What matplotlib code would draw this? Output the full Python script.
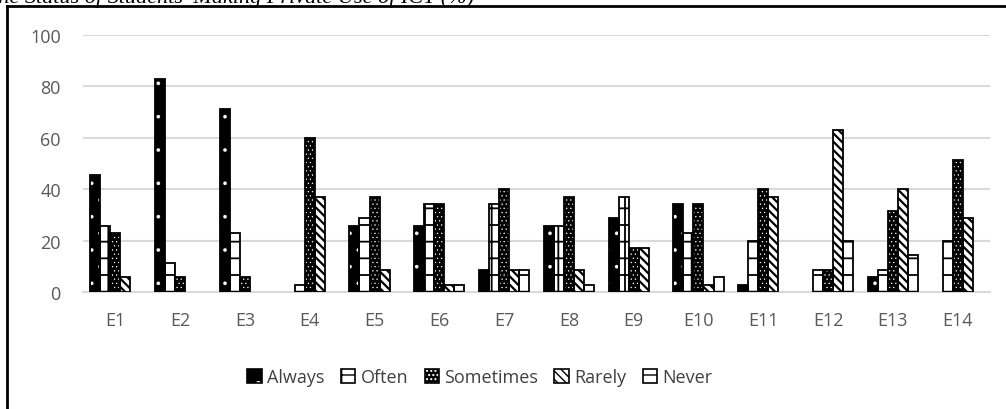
import numpy as np
import matplotlib
matplotlib.use("Agg")
import matplotlib.pyplot as plt
from matplotlib.lines import Line2D

# percentages of students (n = 35) per item
items = ["E1", "E2", "E3", "E4", "E5", "E6", "E7",
         "E8", "E9", "E10", "E11", "E12", "E13", "E14"]
always = [45.7, 82.9, 71.4, 0, 25.7, 25.7, 8.6, 25.7, 28.6, 34.3, 2.9, 0, 5.7, 0]
often = [25.7, 11.4, 22.9, 2.9, 28.6, 34.3, 34.3, 25.7, 37.1, 22.9, 20.0, 8.6, 8.6, 20.0]
sometimes = [22.9, 5.7, 5.7, 60.0, 37.1, 34.3, 40.0, 37.1, 17.1, 34.3, 40.0, 8.6, 31.4, 51.4]
rarely = [5.7, 0, 0, 37.1, 8.6, 2.9, 8.6, 8.6, 17.1, 2.9, 37.1, 62.9, 40.0, 28.6]
never = [0, 0, 0, 0, 0, 2.9, 8.6, 2.9, 0, 5.7, 0, 20.0, 14.3, 0]
labels = ["Always", "Often", "Sometimes", "Rarely", "Never"]
y_ticks = [0, 20, 40, 60, 80, 100]

plt.rcParams["font.family"] = ["Open Sans", "DejaVu Sans"]

# face, hatch colour, hatch, hatch line width per series
styles = [
    ("black", "white", ".", 0.2),
    ("white", "black", "+", 1.3),
    ("black", "white", "....", 0.4),
    ("white", "black", "\\\\\\\\", 1.6),
    ("white", "black", "-", 1.3),
]
values = [always, often, sometimes, rarely, never]

fig = plt.figure(figsize=(10.06, 4.10), dpi=100)
ax = fig.add_axes([83 / 1006, 117 / 410, 907 / 1006, 257 / 410])

x = np.arange(len(items))
w = 0.155
handles = []
for i, (name, vals, (face, hcol, hatch, hlw)) in enumerate(zip(labels, values, styles)):
    pos = x + (i - 2) * w
    vals = np.array(vals)
    edge = ["black" if v > 0 else "none" for v in vals]
    with plt.rc_context({"hatch.linewidth": hlw}):
        # hatch layer (hatch takes the edge colour), then a black outline
        bars = ax.bar(pos, vals, w, color=face, edgecolor=hcol, linewidth=0,
                      hatch=hatch, zorder=3)
        for b in bars:
            if hasattr(b, "set_hatch_linewidth"):
                b.set_hatch_linewidth(hlw)
        ax.bar(pos, vals, w, fill=False, edgecolor=edge, linewidth=1.3, zorder=4)
        fill_h = plt.Rectangle((0, 0), 1, 1, facecolor=face, edgecolor=hcol,
                               hatch=hatch, linewidth=0)
        line_h = plt.Rectangle((0, 0), 1, 1, fill=False, edgecolor="black",
                               linewidth=1.2)
        handles.append((fill_h, line_h))

ax.set_xlim(-0.5, len(items) - 0.5)
ax.set_ylim(0, 100)
ax.set_yticks(y_ticks)
ax.set_xticks(x)
ax.set_xticklabels(items)
ax.yaxis.grid(True, color="#d9d9d9", linewidth=1.5, zorder=0)
ax.set_axisbelow(True)
for s in ["top", "right", "left"]:
    ax.spines[s].set_visible(False)
ax.spines["bottom"].set_color("#d9d9d9")
ax.spines["bottom"].set_linewidth(1.5)
ax.tick_params(axis="both", length=0, labelsize=13, colors="#595959")
ax.tick_params(axis="x", pad=14)
ax.tick_params(axis="y", pad=16)

leg = fig.legend(handles, labels, loc="center", bbox_to_anchor=(480 / 1006, 1 - 378 / 410),
                 ncol=5, frameon=False, fontsize=13, handlelength=0.8, handleheight=0.8,
                 handletextpad=0.3, columnspacing=0.9)
for t in leg.get_texts():
    t.set_color("#404040")

# frame lines of the clipped chart box and the cut-off caption above it
fig.add_artist(Line2D([7 / 1006, 7 / 1006], [0, 1 - 7 / 410], color="black",
                      linewidth=2, transform=fig.transFigure))
fig.add_artist(Line2D([7 / 1006, 1], [1 - 7 / 410, 1 - 7 / 410], color="black",
                      linewidth=2, transform=fig.transFigure))
fig.text(-0.014, 1 - 3 / 410, "The Status of Students' Making Private Use of ICT (%)",
         fontsize=16, fontstyle="italic", family=["Liberation Serif"],
         va="baseline", ha="left")

fig.savefig("out.png", dpi=100)
